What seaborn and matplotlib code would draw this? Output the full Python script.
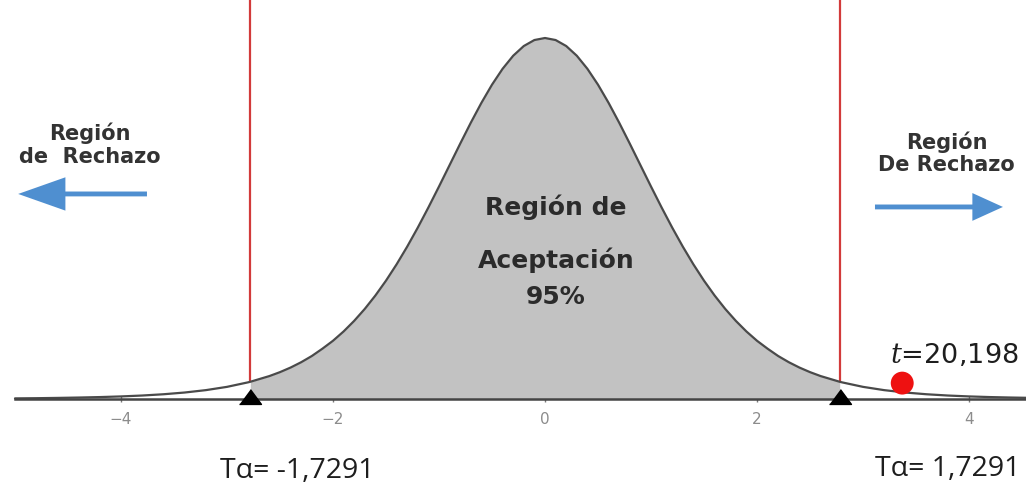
import matplotlib
matplotlib.use("Agg")
import numpy as np
import pandas as pd
import seaborn as sns
import matplotlib.pyplot as plt

# ---------------- data ----------------
# density curve, relative height (peak = 1)
curve_x = [-5.0, -4.8, -4.6, -4.4, -4.2, -4.0, -3.8, -3.6, -3.4, -3.2, -3.0,
           -2.8, -2.78, -2.6, -2.5, -2.4, -2.3, -2.2, -2.1, -2.0, -1.9, -1.8,
           -1.7, -1.6, -1.5, -1.4, -1.3, -1.2, -1.1, -1.0, -0.9, -0.8, -0.7,
           -0.6, -0.5, -0.4, -0.3, -0.2, -0.1, 0.0, 0.1, 0.2, 0.3, 0.4, 0.5,
           0.6, 0.7, 0.8, 0.9, 1.0, 1.1, 1.2, 1.3, 1.4, 1.5, 1.6, 1.7, 1.8,
           1.9, 2.0, 2.1, 2.2, 2.3, 2.4, 2.5, 2.6, 2.78, 2.8, 3.0, 3.2, 3.4,
           3.6, 3.8, 4.0, 4.2, 4.4, 4.6]
curve_y = [0.0017, 0.0022, 0.0030, 0.0040, 0.0053, 0.0071, 0.0096, 0.0131,
           0.0179, 0.0245, 0.0336, 0.0462, 0.0477, 0.0635, 0.0744, 0.0871,
           0.1019, 0.1190, 0.1393, 0.1613, 0.1871, 0.2165, 0.2496, 0.2867,
           0.3278, 0.3730, 0.4221, 0.4748, 0.5306, 0.5886, 0.6479, 0.7073,
           0.7653, 0.8203, 0.8707, 0.9147, 0.9509, 0.9778, 0.9944, 1.0000,
           0.9944, 0.9778, 0.9509, 0.9147, 0.8707, 0.8203, 0.7653, 0.7073,
           0.6479, 0.5886, 0.5306, 0.4748, 0.4221, 0.3730, 0.3278, 0.2867,
           0.2496, 0.2165, 0.1871, 0.1613, 0.1393, 0.1190, 0.1019, 0.0871,
           0.0744, 0.0635, 0.0477, 0.0462, 0.0336, 0.0245, 0.0179, 0.0131,
           0.0096, 0.0071, 0.0053, 0.0040, 0.0030]

crit_x = [-2.78, 2.78]          # critical values (position on the drawn axis)
crit_y = [0.0477, 0.0477]       # curve height at the critical values
crit_labels = ["T\u03b1= -1,7291", "T\u03b1= 1,7291"]

t_point_x = [3.37]
t_point_y = [0.044]
t_label = r"$t$=20,198"

tick_values = [-4, -2, 0, 2, 4]
tick_labels = ["\u22124", "\u22122", "0", "2", "4"]

center_lines = ["Regi\u00f3n de", "Aceptaci\u00f3n", "95%"]
left_label = "Regi\u00f3n\nde  Rechazo"
right_label = "Regi\u00f3n\nDe Rechazo"

# ---------------- style ----------------
sns.set_theme(style="white")
plt.rcParams["font.family"] = ["DejaVu Sans"]
plt.rcParams["mathtext.fontset"] = "dejavuserif"

fig = plt.figure(figsize=(10.26, 4.84), dpi=100)
ax = fig.add_axes([0, 0, 1, 1])

XLIM = (-5.1415, 4.5377)
YLIM = (-0.2355, 1.1053)

curve = pd.DataFrame({"x": curve_x, "density": curve_y})

# acceptance region fill
inside = (curve["x"] >= crit_x[0]) & (curve["x"] <= crit_x[1])
ax.fill_between(curve.loc[inside, "x"], 0, curve.loc[inside, "density"],
                color="#c2c2c2", lw=0, zorder=1)

# curve
sns.lineplot(data=curve, x="x", y="density", ax=ax, color="#4a4a4a",
             lw=1.6, estimator=None, zorder=3)

# red critical lines
ax.vlines(crit_x, crit_y, YLIM[1], color="#d23a3a", lw=1.6, zorder=2)

# black triangles on the axis
tri = [(-1.0, -0.45), (1.0, -0.45), (0.0, 0.9)]
ax.plot(crit_x, [0, 0], ls="none", marker=tri, ms=15.8, color="black",
        zorder=6)

# t statistic point
sns.scatterplot(x=t_point_x, y=t_point_y, ax=ax, s=272, color="#ee1111",
                edgecolor="none", zorder=7)

# axis
ax.set_xlim(*XLIM)
ax.set_ylim(*YLIM)
for s in ["top", "left", "right"]:
    ax.spines[s].set_visible(False)
ax.spines["bottom"].set_position(("data", 0))
ax.spines["bottom"].set_bounds(curve_x[0], XLIM[1])
ax.spines["bottom"].set_color("#444444")
ax.spines["bottom"].set_linewidth(1.8)
ax.spines["bottom"].set_zorder(4)
ax.set_xticks(tick_values)
ax.set_xticklabels(tick_labels)
ax.set_yticks([])
ax.set_xlabel("")
ax.set_ylabel("")
ax.tick_params(axis="x", direction="inout", length=5, width=1,
               color="#777777", labelcolor="#8c8c8c", labelsize=11, pad=7,
               bottom=True)

# texts
txt_color = "#2b2b2b"
ax.text(0.104, 0.510, center_lines[0], ha="center", va="baseline",
        fontsize=18, fontweight="bold", color=txt_color, zorder=8)
ax.text(0.104, 0.363, center_lines[1], ha="center", va="baseline",
        fontsize=18, fontweight="bold", color=txt_color, zorder=8)
ax.text(0.104, 0.262, center_lines[2], ha="center", va="baseline",
        fontsize=18, fontweight="bold", color=txt_color, zorder=8)

ax.text(-4.29, 0.704, left_label, ha="center", va="center", fontsize=15,
        fontweight="bold", color="#333333", linespacing=1.15, zorder=8)
ax.text(3.79, 0.681, right_label, ha="center", va="center", fontsize=15,
        fontweight="bold", color="#333333", linespacing=1.15, zorder=8)

ax.text(-2.34, -0.219, crit_labels[0], ha="center", va="baseline",
        fontsize=20.5, color="#1e1e1e", family=["Open Sans", "DejaVu Sans"])
ax.text(3.80, -0.214, crit_labels[1], ha="center", va="baseline",
        fontsize=20.5, color="#1e1e1e", family=["Open Sans", "DejaVu Sans"])

ax.text(3.255, 0.0997, t_label, ha="left", va="baseline", fontsize=19.5,
        color="#1e1e1e", zorder=8)

# blue arrows
arrow_col = "#4f8fd0"
ax.annotate("", xy=(-4.97, 0.568), xytext=(-3.755, 0.568),
            arrowprops=dict(arrowstyle="simple,head_length=3.4,head_width=2.4,tail_width=0.35",
                            mutation_scale=10, color=arrow_col, lw=0,
                            shrinkA=0, shrinkB=0))
ax.annotate("", xy=(4.32, 0.532), xytext=(3.113, 0.532),
            arrowprops=dict(arrowstyle="simple,head_length=2.2,head_width=2.0,tail_width=0.35",
                            mutation_scale=10, color=arrow_col, lw=0,
                            shrinkA=0, shrinkB=0))

fig.savefig("out.png", dpi=100, facecolor="white")
